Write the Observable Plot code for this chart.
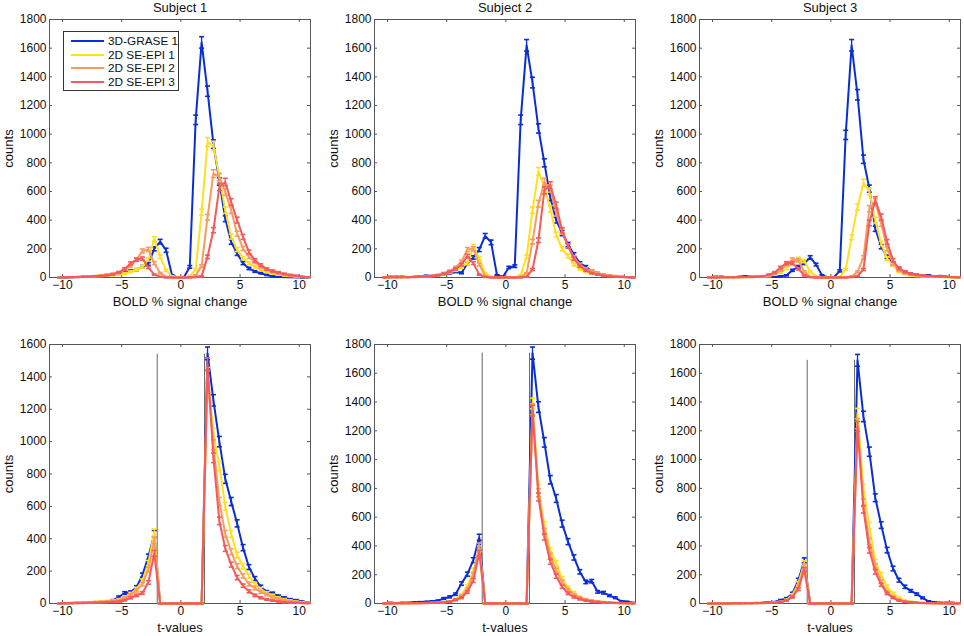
<!DOCTYPE html>
<html><head><meta charset="utf-8">
<script src="https://cdn.jsdelivr.net/npm/d3@7"></script>
<script src="https://cdn.jsdelivr.net/npm/@observablehq/plot@0.6"></script>
<style>
body{margin:0;background:#fff;}
#fig{position:relative;width:964px;height:636px;overflow:hidden;background:#fff;font-family:"Liberation Sans",Arial,Helvetica,sans-serif;}
.panel{position:absolute;}
.panel svg{overflow:visible;}
.legend{position:absolute;left:63px;top:31px;width:114px;height:58px;border:1px solid #333;background:#fff;}
.legend .row{position:absolute;left:0;width:114px;height:14px;}
.legend .row svg{position:absolute;left:7px;top:0;}
.legend .row span{position:absolute;left:44px;top:0;line-height:14px;font-size:11.8px;color:#111;white-space:nowrap;}
</style></head><body><div id="fig"></div>
<script>
// bin centres (x) shared by every histogram
const xBins = [-10.25,-9.75,-9.25,-8.75,-8.25,-7.75,-7.25,-6.75,-6.25,-5.75,-5.25,-4.75,-4.25,-3.75,-3.25,-2.75,-2.25,-1.75,-1.25,-0.75,-0.25,0.25,0.75,1.25,1.75,2.25,2.75,3.25,3.75,4.25,4.75,5.25,5.75,6.25,6.75,7.25,7.75,8.25,8.75,9.25,9.75,10.25,10.75];
const seriesNames = ["3D-GRASE 1","2D SE-EPI 1","2D SE-EPI 2","2D SE-EPI 3"];
const seriesColors = ["#0b2ed4","#ffe01e","#f99b60","#f45a5c"];
const subjects = ["Subject 1","Subject 2","Subject 3"];
const xTicks = [-10,-5,0,5,10];
const yTicks1800 = [0,200,400,600,800,1000,1200,1400,1600,1800];
const yTicks1600 = [0,200,400,600,800,1000,1200,1400,1600];
const tThresholds = [-2, 2];
const tLineTops = [1540, 1740, 1690];

// ---- BOLD % signal change, Subject 1
const s1BoldGrase = [0,0,2,3,5,5,8,10,15,20,25,35,45,55,75,95,200,250,190,15,0,2,74,1100,1640,1300,930,670,410,248,167,100,63,42,30,18,8,5,3,2,1,0,0];
const s1BoldEpi1 = [0,2,3,4,5,6,8,10,12,15,20,28,40,55,75,125,268,145,50,8,0,2,10,55,455,945,920,700,470,285,195,135,100,75,55,40,28,20,14,10,6,3,1];
const s1BoldEpi2 = [0,2,3,4,5,7,10,15,20,25,35,55,80,125,185,196,100,30,5,0,0,0,2,15,80,420,725,700,597,469,306,202,144,109,75,55,40,28,20,15,10,5,2];
const s1BoldEpi3 = [0,1,2,3,5,6,8,10,15,22,35,60,98,125,132,70,20,5,0,0,0,0,0,2,8,144,330,631,666,527,400,283,178,120,86,60,45,35,25,18,12,6,2];
const s1BoldGraseErr = [0,0,1,2,2,2,3,3,4,4,5,6,7,7,9,10,14,16,14,4,0,1,9,33,40,36,30,26,20,16,13,10,8,6,5,4,3,2,2,1,1,0,0];
const s1BoldEpi1Err = [0,1,2,2,2,2,3,3,3,4,4,5,6,7,9,11,16,12,7,3,0,1,3,7,21,31,30,26,22,17,14,12,10,9,7,6,5,4,4,3,2,2,1];
const s1BoldEpi2Err = [0,1,2,2,2,3,3,4,4,5,6,7,9,11,14,14,10,5,2,0,0,0,1,4,9,20,27,26,24,22,17,14,12,10,9,7,6,5,4,4,3,2,1];
const s1BoldEpi3Err = [0,1,1,2,2,2,3,3,4,5,6,8,10,11,11,8,4,2,0,0,0,0,0,1,3,12,18,25,26,23,20,17,13,11,9,8,7,6,5,4,3,2,1];

// ---- BOLD % signal change, Subject 2
const s2BoldGrase = [2,5,5,5,3,5,8,12,10,15,20,30,40,32,100,140,195,290,245,16,5,70,79,1100,1620,1360,1040,800,560,400,310,230,160,100,74,45,30,18,12,8,5,3,0];
const s2BoldEpi1 = [0,1,2,2,3,4,5,6,10,15,22,35,50,74,100,215,132,28,5,0,0,0,0,16,144,470,740,630,480,300,200,150,90,60,40,30,22,16,12,8,5,3,1];
const s2BoldEpi2 = [0,1,2,2,3,4,5,8,12,18,30,45,70,110,195,200,90,10,2,0,0,0,0,5,28,250,515,666,620,450,320,220,140,90,60,45,30,20,15,10,6,3,1];
const s2BoldEpi3 = [0,1,1,2,2,3,5,6,10,15,25,40,60,90,150,100,20,3,0,0,0,0,0,0,5,56,260,608,643,504,330,220,130,80,50,30,20,12,8,5,3,2,1];
const s2BoldGraseErr = [1,2,2,2,2,2,3,3,3,4,4,5,6,6,10,12,14,17,16,4,2,8,9,33,40,37,32,28,24,20,18,15,13,10,9,7,5,4,3,3,2,2,0];
const s2BoldEpi1Err = [0,1,1,1,2,2,2,2,3,4,5,6,7,9,10,15,11,5,2,0,0,0,0,4,12,22,27,25,22,17,14,12,9,8,6,5,5,4,3,3,2,2,1];
const s2BoldEpi2Err = [0,1,1,1,2,2,2,3,3,4,5,7,8,10,14,14,9,3,1,0,0,0,0,2,5,16,23,26,25,21,18,15,12,9,8,7,5,4,4,3,2,2,1];
const s2BoldEpi3Err = [0,1,1,1,1,2,2,2,3,4,5,6,8,9,12,10,4,2,0,0,0,0,0,0,2,7,16,25,25,22,18,15,11,9,7,5,4,3,3,2,2,1,1];

// ---- BOLD % signal change, Subject 3
const s3BoldGrase = [3,5,5,3,3,5,8,5,5,5,5,5,8,15,50,75,100,140,90,15,2,2,46,995,1620,1275,825,620,340,215,144,98,63,40,25,18,12,15,8,10,5,3,0];
const s3BoldEpi1 = [0,0,1,1,2,2,3,3,4,5,10,20,35,63,100,130,115,40,10,2,0,0,5,56,280,492,660,600,400,237,132,86,40,25,15,10,8,5,4,3,2,1,0];
const s3BoldEpi2 = [0,0,1,1,2,2,3,3,4,5,10,25,50,90,125,120,40,5,0,0,0,0,0,2,8,40,140,480,527,376,200,98,50,30,20,15,10,8,6,5,4,2,1];
const s3BoldEpi3 = [0,0,1,1,2,2,3,3,4,8,20,35,70,100,100,60,15,2,0,0,0,0,0,0,2,10,56,380,540,422,248,120,63,40,25,20,15,10,8,6,5,3,1];
const s3BoldGraseErr = [2,2,2,2,2,2,3,2,2,2,2,2,3,4,7,9,10,12,9,4,1,1,7,32,40,36,29,25,18,15,12,10,8,6,5,4,3,4,3,3,2,2,0];
const s3BoldEpi1Err = [0,0,1,1,1,1,2,2,2,2,3,4,6,8,10,11,11,6,3,1,0,0,2,7,17,22,26,24,20,15,11,9,6,5,4,3,3,2,2,2,1,1,0];
const s3BoldEpi2Err = [0,0,1,1,1,1,2,2,2,2,3,5,7,9,11,11,6,2,0,0,0,0,0,1,3,6,12,22,23,19,14,10,7,5,4,4,3,3,2,2,2,1,1];
const s3BoldEpi3Err = [0,0,1,1,1,1,2,2,2,3,4,6,8,10,10,8,4,1,0,0,0,0,0,0,1,3,7,19,23,21,16,11,8,6,5,4,4,3,3,2,2,2,1];

// ---- t-values, Subject 1
const s1TGrase = [1,2,3,4,5,6,8,10,12,20,40,65,70,100,175,288,430,0,0,0,0,0,0,0,0,1545,1255,1000,770,630,495,345,225,154,103,72,62,45,35,25,20,12,5];
const s1TEpi1 = [1,2,3,4,5,8,10,12,15,18,25,40,60,90,140,250,440,0,0,0,0,0,0,0,0,1420,1050,850,600,430,300,230,170,120,90,65,50,35,25,18,12,8,4];
const s1TEpi2 = [1,2,3,4,5,6,8,10,12,15,20,35,55,80,120,210,390,0,0,0,0,0,0,0,0,1400,980,630,430,320,230,170,120,95,70,55,40,28,20,14,10,6,3];
const s1TEpi3 = [0,1,1,2,3,4,5,6,8,10,12,20,35,50,65,130,310,0,0,0,0,0,0,0,0,1480,900,510,340,240,160,110,75,50,35,25,18,12,8,5,4,2,1];
const s1TGraseErr = [1,1,2,2,2,2,3,3,3,4,6,8,8,10,13,17,21,0,0,0,0,0,0,0,0,39,35,32,28,25,22,19,15,12,10,8,8,7,6,5,4,3,2];
const s1TEpi1Err = [1,1,2,2,2,3,3,3,4,4,5,6,8,9,12,16,21,0,0,0,0,0,0,0,0,38,32,29,24,21,17,15,13,11,9,8,7,6,5,4,3,3,2];
const s1TEpi2Err = [1,1,2,2,2,2,3,3,3,4,4,6,7,9,11,14,20,0,0,0,0,0,0,0,0,37,31,25,21,18,15,13,11,10,8,7,6,5,4,4,3,2,2];
const s1TEpi3Err = [0,1,1,1,2,2,2,2,3,3,3,4,6,7,8,11,18,0,0,0,0,0,0,0,0,38,30,23,18,15,13,10,9,7,6,5,4,3,3,2,2,1,1];

// ---- t-values, Subject 2
const s2TGrase = [2,5,3,5,5,8,10,12,15,20,35,46,65,139,204,301,460,0,0,0,0,0,0,0,0,1740,1365,1120,860,730,555,430,320,220,150,155,81,75,55,40,15,12,5];
const s2TEpi1 = [0,1,1,2,2,3,3,4,5,6,10,15,30,60,120,230,380,0,0,0,0,0,0,0,0,1390,800,544,370,278,174,110,75,45,30,20,15,10,8,5,4,3,1];
const s2TEpi2 = [0,1,1,1,2,2,3,3,4,5,8,12,25,50,100,200,400,0,0,0,0,0,0,0,0,1350,770,500,330,230,150,95,60,40,28,20,14,10,7,5,3,2,1];
const s2TEpi3 = [0,0,1,1,1,2,2,3,4,5,8,12,25,40,80,160,350,0,0,0,0,0,0,0,0,1340,740,463,290,190,116,70,45,30,20,14,10,7,5,3,2,1,0];
const s2TGraseErr = [1,2,2,2,2,3,3,3,4,4,6,7,8,12,14,17,21,0,0,0,0,0,0,0,0,42,37,33,29,27,24,21,18,15,12,12,9,9,7,6,4,3,2];
const s2TEpi1Err = [0,1,1,1,1,2,2,2,2,2,3,4,5,8,11,15,19,0,0,0,0,0,0,0,0,37,28,23,19,17,13,10,9,7,5,4,4,3,3,2,2,2,1];
const s2TEpi2Err = [0,1,1,1,1,1,2,2,2,2,3,3,5,7,10,14,20,0,0,0,0,0,0,0,0,37,28,22,18,15,12,10,8,6,5,4,4,3,3,2,2,1,1];
const s2TEpi3Err = [0,0,1,1,1,1,1,2,2,2,3,3,5,6,9,13,19,0,0,0,0,0,0,0,0,37,27,22,17,14,11,8,7,5,4,4,3,3,2,2,1,1,0];

// ---- t-values, Subject 3
const s3TGrase = [0,0,1,1,2,2,3,3,4,5,8,10,23,35,70,162,300,0,0,0,0,0,0,0,0,1690,1300,1055,735,545,371,243,162,116,88,65,39,15,8,5,5,5,2];
const s3TEpi1 = [0,0,0,1,1,1,2,2,3,3,5,8,12,25,60,140,280,0,0,0,0,0,0,0,0,1320,800,540,290,200,116,70,40,20,12,8,5,3,2,1,1,0,0];
const s3TEpi2 = [0,0,0,1,1,1,2,2,3,3,4,6,10,20,50,120,260,0,0,0,0,0,0,0,0,1250,700,430,260,150,80,45,25,15,10,6,4,3,2,1,1,0,0];
const s3TEpi3 = [0,0,0,0,1,1,1,2,2,3,4,5,10,20,45,100,235,0,0,0,0,0,0,0,0,1230,655,370,220,130,70,40,20,12,8,5,3,2,1,1,0,0,0];
const s3TGraseErr = [0,0,1,1,1,1,2,2,2,2,3,3,5,6,8,13,17,0,0,0,0,0,0,0,0,41,36,32,27,23,19,16,13,11,9,8,6,4,3,2,2,2,1];
const s3TEpi1Err = [0,0,0,1,1,1,1,1,2,2,2,3,3,5,8,12,17,0,0,0,0,0,0,0,0,36,28,23,17,14,11,8,6,4,3,3,2,2,1,1,1,0,0];
const s3TEpi2Err = [0,0,0,1,1,1,1,1,2,2,2,2,3,4,7,11,16,0,0,0,0,0,0,0,0,35,26,21,16,12,9,7,5,4,3,2,2,2,1,1,1,0,0];
const s3TEpi3Err = [0,0,0,0,1,1,1,1,1,2,2,2,3,4,7,10,15,0,0,0,0,0,0,0,0,35,26,19,15,11,8,6,4,3,3,2,2,1,1,1,0,0,0];

// ---- layout
const FONT = '"Liberation Sans",Arial,Helvetica,sans-serif';
const colLeft = [4.3, 329.3, 654.3];
const W = 309, ML = 45, MR = 3, FW = W - ML - MR;
const rows = [
  {top: 0, height: 307, marginTop: 19, marginBottom: 30, xLabel: "BOLD % signal change", title: true,
   series: [[s1BoldGrase,s1BoldEpi1,s1BoldEpi2,s1BoldEpi3],[s2BoldGrase,s2BoldEpi1,s2BoldEpi2,s2BoldEpi3],[s3BoldGrase,s3BoldEpi1,s3BoldEpi2,s3BoldEpi3]],
   errors: [[s1BoldGraseErr,s1BoldEpi1Err,s1BoldEpi2Err,s1BoldEpi3Err],[s2BoldGraseErr,s2BoldEpi1Err,s2BoldEpi2Err,s2BoldEpi3Err],[s3BoldGraseErr,s3BoldEpi1Err,s3BoldEpi2Err,s3BoldEpi3Err]],
   yTicks: [yTicks1800, yTicks1800, yTicks1800]},
  {top: 320.3, height: 313, marginTop: 24, marginBottom: 30, xLabel: "t-values", title: false, thresholds: true,
   series: [[s1TGrase,s1TEpi1,s1TEpi2,s1TEpi3],[s2TGrase,s2TEpi1,s2TEpi2,s2TEpi3],[s3TGrase,s3TEpi1,s3TEpi2,s3TEpi3]],
   errors: [[s1TGraseErr,s1TEpi1Err,s1TEpi2Err,s1TEpi3Err],[s2TGraseErr,s2TEpi1Err,s2TEpi2Err,s2TEpi3Err],[s3TGraseErr,s3TEpi1Err,s3TEpi2Err,s3TEpi3Err]],
   yTicks: [yTicks1600, yTicks1800, yTicks1800]}
];

const capSymbol = {draw(context, size) { const r = Math.sqrt(size / Math.PI); context.moveTo(-r, 0); context.lineTo(r, 0); }};
const axisColor = "#555";
const textColor = "#111";
const fig = document.getElementById("fig");

rows.forEach((row, ri) => {
  const FH = row.height - row.marginTop - row.marginBottom;
  for (let c = 0; c < 3; c++) {
    const yt = row.yTicks[c];
    const marks = [
      Plot.frame({stroke: axisColor, strokeWidth: 1}),
      Plot.ruleX(xTicks, {stroke: axisColor, insetTop: FH - 3}),
      Plot.ruleX(xTicks, {stroke: axisColor, insetBottom: FH - 3}),
      Plot.ruleY(yt, {stroke: axisColor, insetRight: FW - 3}),
      Plot.ruleY(yt, {stroke: axisColor, insetLeft: FW - 3}),
      Plot.axisX(xTicks, {tickSize: 0, tickPadding: 3, label: null, fontSize: 12, fill: textColor}),
      Plot.axisY(yt, {tickSize: 0, tickPadding: 3, label: null, tickFormat: d3.format("d"), fontSize: 12, fill: textColor})
    ];
    if (row.thresholds) {
      const th = tThresholds.map(x => ({x, top: tLineTops[c]}));
      marks.push(Plot.ruleX(th, {x: "x", y1: 0, y2: "top", stroke: "#666", strokeWidth: 1}));
    }
    row.series[c].forEach((vals, si) => {
      const errs = row.errors[c][si];
      const data = xBins.map((x, i) => ({x, v: vals[i], lo: vals[i] - errs[i], hi: vals[i] + errs[i]}));
      const col = seriesColors[si];
      marks.push(Plot.ruleX(data, {x: "x", y1: "lo", y2: "hi", stroke: col, strokeWidth: 1.3}));
      marks.push(Plot.line(data, {x: "x", y: "v", stroke: col, strokeWidth: 2}));
      marks.push(Plot.dot(data, {x: "x", y: "lo", symbol: capSymbol, r: 2.5, fill: "none", stroke: col, strokeWidth: 1.6}));
      marks.push(Plot.dot(data, {x: "x", y: "hi", symbol: capSymbol, r: 2.5, fill: "none", stroke: col, strokeWidth: 1.6}));
    });
    if (row.title) marks.push(Plot.text([subjects[c]], {text: d => d, frameAnchor: "top", dy: -12, lineAnchor: "middle", textAnchor: "middle", fontSize: 13, fill: textColor}));
    marks.push(Plot.text([row.xLabel], {text: d => d, frameAnchor: "bottom", dy: 24.5, lineAnchor: "middle", textAnchor: "middle", fontSize: 13, fill: textColor}));
    marks.push(Plot.text(["counts"], {text: d => d, frameAnchor: "left", dx: -41, rotate: -90, lineAnchor: "middle", textAnchor: "middle", fontSize: 13, fill: textColor}));

    const chart = Plot.plot({
      width: W, height: row.height,
      marginLeft: ML, marginRight: MR, marginTop: row.marginTop, marginBottom: row.marginBottom,
      x: {domain: [-11.1, 10.95]},
      y: {domain: [0, yt[yt.length - 1]]},
      style: {fontFamily: FONT, fontSize: "12px", color: textColor, background: "transparent", overflow: "visible"},
      marks
    });
    const div = document.createElement("div");
    div.className = "panel";
    div.style.left = colLeft[c] + "px";
    div.style.top = row.top + "px";
    div.appendChild(chart);
    fig.appendChild(div);
  }
});

// legend (Subject 1, top panel)
const leg = document.createElement("div");
leg.className = "legend";
seriesNames.forEach((name, i) => {
  const r = document.createElement("div");
  r.className = "row";
  r.style.top = (2 + i * 13.7) + "px";
  r.innerHTML = `<svg width="34" height="14"><line x1="0" x2="33" y1="7" y2="7" stroke="${seriesColors[i]}" stroke-width="2"/></svg><span>${name}</span>`;
  leg.appendChild(r);
});
fig.appendChild(leg);
</script></body></html>
